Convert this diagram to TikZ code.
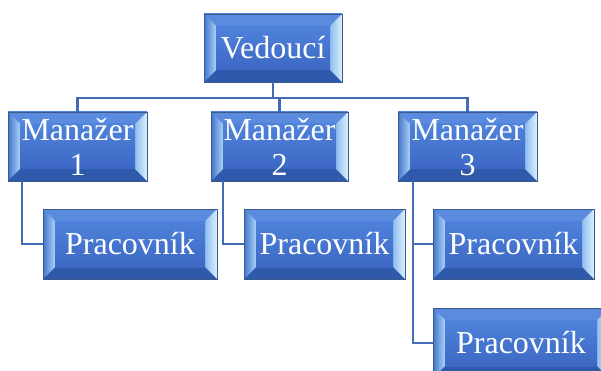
\documentclass[tikz,border=0pt]{standalone}
\usepackage{fontspec}
\setmainfont{Liberation Serif}
\usetikzlibrary{calc}
\definecolor{facetop}{HTML}{4F82DB}
\definecolor{facebot}{HTML}{3C68C4}
\definecolor{bevtop}{HTML}{5A8BDF}
\definecolor{bevbot}{HTML}{2F5AAC}
\definecolor{bevlo}{HTML}{4474CC}
\definecolor{bevli}{HTML}{AAD3F7}
\definecolor{bevri}{HTML}{8FBDEF}
\definecolor{bevro}{HTML}{DCF0FD}
\definecolor{edgecol}{HTML}{3A5A8C}
\definecolor{linecol}{HTML}{426BB8}
\tikzset{
  orgbox/.style={draw=edgecol, line width=0.7pt, top color=facetop, bottom color=facebot,
    text=white, font=\fontsize{32}{35}\selectfont, align=center, inner sep=0pt,
    path picture={
      \path (path picture bounding box.north west) coordinate (bnw)
            (path picture bounding box.north east) coordinate (bne)
            (path picture bounding box.south west) coordinate (bsw)
            (path picture bounding box.south east) coordinate (bse);
      \path ($(bnw)+(12pt,-12pt)$) coordinate (inw)
            ($(bne)+(-12pt,-12pt)$) coordinate (ine)
            ($(bsw)+(12pt,12pt)$) coordinate (isw)
            ($(bse)+(-12pt,12pt)$) coordinate (ise);
      \fill[bevtop] (bnw) -- (bne) -- (ine) -- (inw) -- cycle;
      \fill[bevbot] (bsw) -- (bse) -- (ise) -- (isw) -- cycle;
      \shade[left color=bevlo, right color=bevli] (bnw) -- (bsw) -- (isw) -- (inw) -- cycle;
      \shade[left color=bevri, right color=bevro] (bne) -- (bse) -- (ise) -- (ine) -- cycle;
      \shade[top color=facetop, bottom color=facebot] (inw) rectangle (ise);
    }},
  mgr/.style={orgbox, minimum height=69pt, text depth=-5pt},
  wkr/.style={orgbox, minimum height=70pt},
  conn/.style={draw=linecol, line width=2.2pt}
}
\begin{document}
\begin{tikzpicture}[x=1pt,y=1pt]
\useasboundingbox (0,0) rectangle (601,-371);
\clip (0,0) rectangle (601,-371);
\node[orgbox, minimum width=138pt, minimum height=68pt] (ved) at (273,-48) {Vedoucí};
\node[mgr, minimum width=139pt] (m1) at (77.5,-146.5) {Manažer\\1};
\node[mgr, minimum width=137pt] (m2) at (279.5,-146.5) {Manažer\\2};
\node[mgr, minimum width=139pt] (m3) at (467.5,-146.5) {Manažer\\3};
\node[wkr, minimum width=174pt] (p1) at (130,-244) {Pracovník};
\node[wkr, minimum width=161pt] (p2) at (324.5,-244) {Pracovník};
\node[wkr, minimum width=161pt] (p3a) at (513.5,-244) {Pracovník};
\node[wkr, minimum width=176pt] (p3b) at (521,-343) {Pracovník};
\coordinate (hub) at (273,-98);
\draw[conn] (ved.south) -- (hub) -| (m1.north);
\draw[conn] (hub) -| (m2.north);
\draw[conn] (hub) -| (m3.north);
\draw[conn] ($(m1.south west)+(14pt,0)$) |- (p1.west);
\draw[conn] ($(m2.south west)+(12pt,0)$) |- (p2.west);
\draw[conn] ($(m3.south west)+(15pt,0)$) |- (p3a.west);
\draw[conn] ($(m3.south west)+(15pt,0)$) |- (p3b.west);
\end{tikzpicture}
\end{document}
